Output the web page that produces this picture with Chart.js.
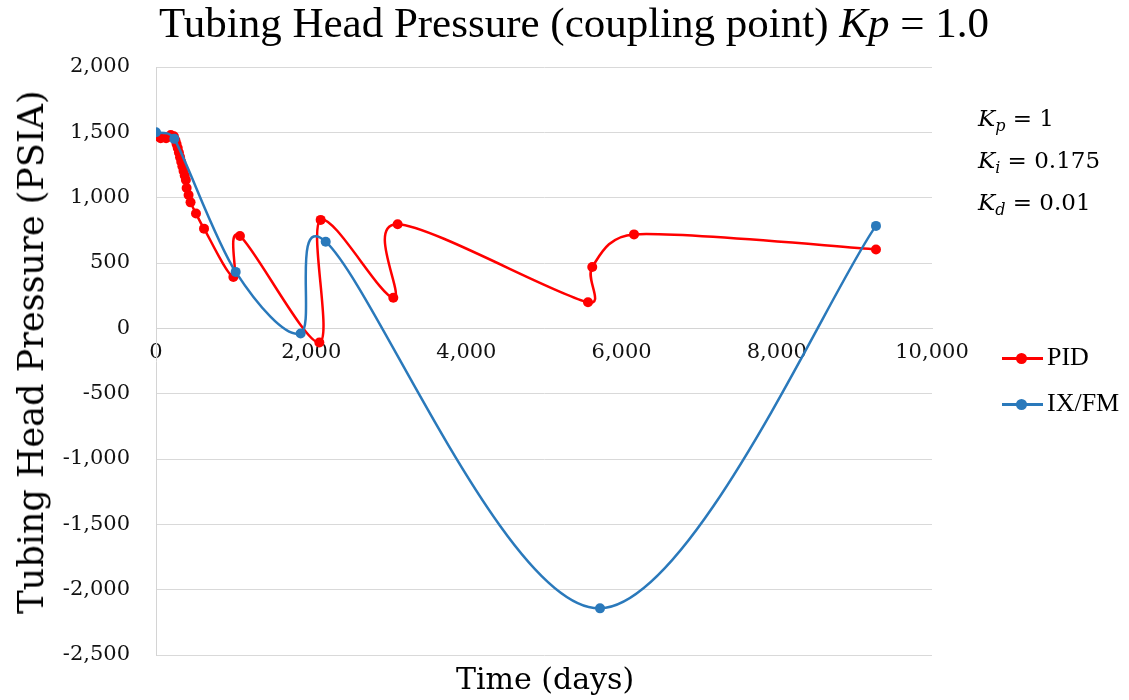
<!DOCTYPE html>
<html>
<head>
<meta charset="utf-8">
<script src="https://cdn.jsdelivr.net/npm/chart.js@4.4.1/dist/chart.umd.min.js"></script>
<style>
  html, body { margin:0; padding:0; background:#fff; }
  #wrap { position:relative; width:1129px; height:700px; overflow:hidden; }
  #c { position:absolute; left:0; top:0; }
  .txt { position:absolute; color:#000; white-space:nowrap; }
  #title { left:0; width:1148px; top:-2px; text-align:center; font:43px 'Liberation Serif', serif; }
  #ylab { left:31px; top:352px; transform:translate(-50%,-50%) rotate(-90deg); font:35px 'DejaVu Serif', serif; }
  #xlab { left:545px; top:678px; transform:translate(-50%,-50%); font:30px 'DejaVu Serif', serif; }
  #kvals { left:978px; top:101px; font:23px 'DejaVu Serif', serif; line-height:35px; }
  #kvals sub { font-size:16px; vertical-align:-5px; font-style:italic; }
  .leg { position:absolute; left:1002px; height:30px; font:26px 'Liberation Serif', serif; }
  .leg .ln { position:absolute; left:0; top:14px; width:41px; height:3px; }
  .leg .dt { position:absolute; left:14px; top:10px; width:11px; height:11px; border-radius:50%; }
  .leg .lb { position:absolute; left:45px; top:-1px; }
</style>
</head>
<body>
<div id="wrap">
  <canvas id="c" width="1129" height="700"></canvas>
  <div class="txt" id="title">Tubing Head Pressure (coupling point) <i>Kp</i> = 1.0</div>
  <div class="txt" id="ylab">Tubing Head Pressure (PSIA)</div>
  <div class="txt" id="xlab">Time (days)</div>
  <div class="txt" id="kvals">
    <div><i>K</i><sub>p</sub> = 1</div>
    <div><i>K</i><sub>i</sub> = 0.175</div>
    <div><i>K</i><sub>d</sub> = 0.01</div>
  </div>
  <div class="leg" id="legPID" style="top:343px;">
    <div class="ln" style="background:#ff0000"></div><div class="dt" style="background:#ff0000"></div><div class="lb">PID</div>
  </div>
  <div class="leg" id="legIX" style="top:389px;">
    <div class="ln" style="background:#2a79bb"></div><div class="dt" style="background:#2a79bb"></div><div class="lb">IX/FM</div>
  </div>
</div>
<script>
// Data
const pidDays = [0, 60, 130, 190, 230, 250, 265, 280, 295, 310, 325, 340, 355, 370, 385, 395, 420, 445, 515, 619, 997, 1082, 2105, 2122, 3058, 3114, 5567, 5622, 6160, 9278];
const pidPsia = [1470, 1455, 1455, 1480, 1470, 1440, 1410, 1380, 1345, 1310, 1275, 1240, 1205, 1170, 1135, 1074, 1020, 964, 879, 763, 393, 707, -108, 830, 234, 797, 200, 470, 719, 604];

const ixDays = [0, 236, 1027, 1864, 2187, 5722, 9278];
const ixPsia = [1500, 1450, 432, -39, 663, -2143, 784];

const xTicks = [0, 2000, 4000, 6000, 8000, 10000];
const yTicks = [-2500, -2000, -1500, -1000, -500, 0, 500, 1000, 1500, 2000];

const toPts = (xs, ys) => xs.map((x, i) => ({ x: x, y: ys[i] }));
const fmt = v => Number(v).toLocaleString('en-US');

// Spreadsheet-style smoothed line: Bezier control points (1/6 rule, capped at half segment)
const excelSmooth = {
  id: 'excelSmooth',
  beforeDatasetDraw(chart, args) {
    const meta = args.meta;
    const line = meta.dataset;
    if (!line || !line.updateControlPoints) return;
    line.updateControlPoints(chart.chartArea, 'x');
    const pts = meta.data;
    const n = pts.length;
    const P = i => pts[Math.max(0, Math.min(n - 1, i))];
    const dist = (a, b) => Math.hypot(a.x - b.x, a.y - b.y);
    for (let i = 0; i < n - 1; i++) {
      const p0 = P(i - 1), p1 = P(i), p2 = P(i + 1), p3 = P(i + 2);
      const d02 = dist(p0, p2), d12 = dist(p1, p2), d13 = dist(p1, p3);
      let f0 = 1 / 6, f1 = 1 / 6;
      if (d02 > 0 && d02 / 6 >= d12 / 2) f0 = d12 / 2 / d02;
      if (d13 > 0 && d13 / 6 >= d12 / 2) f1 = d12 / 2 / d13;
      p1.cp2x = p1.x + (p2.x - p0.x) * f0;
      p1.cp2y = p1.y + (p2.y - p0.y) * f0;
      p2.cp1x = p2.x - (p3.x - p1.x) * f1;
      p2.cp1y = p2.y - (p3.y - p1.y) * f1;
    }
    line._path = undefined;
  }
};

new Chart(document.getElementById('c'), {
  type: 'line',
  data: {
    datasets: [
      {
        label: 'IX/FM',
        data: toPts(ixDays, ixPsia),
        tension: 0.4,
        borderColor: '#2a79bb',
        backgroundColor: '#2a79bb',
        borderWidth: 2.5,
        pointRadius: 5,
        pointBorderWidth: 0,
        fill: false
      },
      {
        label: 'PID',
        data: toPts(pidDays, pidPsia),
        tension: 0.4,
        borderColor: '#ff0000',
        backgroundColor: '#ff0000',
        borderWidth: 2.5,
        pointRadius: 5,
        pointBorderWidth: 0,
        fill: false
      }
    ]
  },
  plugins: [excelSmooth],
  options: {
    responsive: false,
    animation: false,
    layout: { padding: { left: 0, right: 197, top: 67, bottom: 45 } },
    plugins: { legend: { display: false }, title: { display: false }, tooltip: { enabled: false } },
    scales: {
      x: {
        type: 'linear',
        min: 0, max: 10000,
        position: { y: 0 },
        afterBuildTicks: s => { s.ticks = xTicks.map(v => ({ value: v })); },
        ticks: { callback: fmt, color: '#111', font: { family: 'DejaVu Serif', size: 21 }, padding: 12, maxRotation: 0, autoSkip: false },
        grid: { color: 'rgba(0,0,0,0)', drawTicks: false },
        border: { color: '#d4d4d4', width: 1 }
      },
      y: {
        type: 'linear',
        min: -2500, max: 2000,
        afterBuildTicks: s => { s.ticks = yTicks.map(v => ({ value: v })); },
        afterFit: s => { s.width = 156; },
        ticks: { callback: fmt, color: '#111', font: { family: 'DejaVu Serif', size: 21 }, padding: 26, autoSkip: false },
        grid: { color: '#d9d9d9', drawTicks: false },
        border: { color: '#d4d4d4', width: 1 }
      }
    }
  }
});
</script>
</body>
</html>
